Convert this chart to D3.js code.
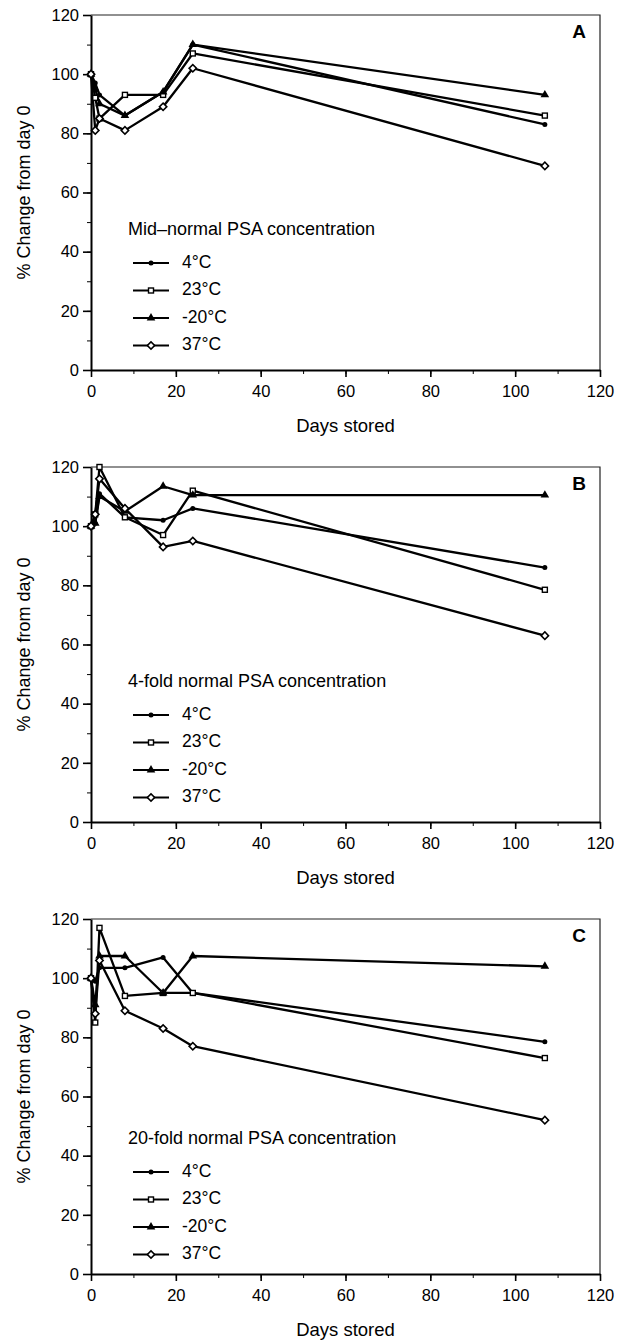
<!DOCTYPE html>
<html>
<head>
<meta charset="utf-8">
<script src="https://cdn.jsdelivr.net/npm/d3@7"></script>
<style>
  body { margin: 0; background: #fff; }
  svg { display: block; font-family: "Liberation Sans", Arial, sans-serif; }
</style>
</head>
<body>
<div id="chart"></div>
<script>
// Sampling days and series names
const days = [0, 1, 2, 8, 17, 24, 107];
const temps = ['4°C', '23°C', '-20°C', '37°C'];
const panelLetters = ['A', 'B', 'C'];
const panelTitles = [
    'Mid–normal PSA concentration',
    '4-fold normal PSA concentration',
    '20-fold normal PSA concentration'
];
const xTicks = [0, 20, 40, 60, 80, 100, 120];
const yTicks = [0, 20, 40, 60, 80, 100, 120];

// % change from day 0, one row per temperature (4, 23, -20, 37 °C)
const midNormal = [
    [100, 97, 93, 86, 94, 110, 83],
    [100, 92, 85, 93, 93, 107, 86],
    [100, 95, 90, 86, 94, 110, 93],
    [100, 81, 85, 81, 89, 102, 69]
];
const fourFold = [
    [100, 101, 111, 103, 102, 106, 86],
    [100, 104, 120, 103, 97, 112, 78.5],
    [100, 101, 110, 105, 113.5, 110.5, 110.5],
    [100, 104, 116, 106, 93, 95, 63]
];
const twentyFold = [
    [100, 99, 103.5, 103.5, 107, 95, 78.5],
    [100, 85, 117, 94, 95, 95, 73],
    [100, 91, 107.5, 107.5, 95, 107.5, 104],
    [100, 88, 106, 89, 83, 77, 52]
];
const panelData = [midNormal, fourFold, twentyFold];

const width = 624, height = 1340;
const left = 91, right = 600;
const panelTops = [15, 467, 919];
const plotH = 355;

const svg = d3.select('#chart').append('svg')
    .attr('width', width)
    .attr('height', height);

const x = d3.scaleLinear().domain([0, 120]).range([left, right]);

// marker per series
function drawMarker(sel, i) {
    if (i === 0) {
        sel.append('circle').attr('r', 2.5).attr('fill', '#000');
    } else if (i === 1) {
        sel.append('rect').attr('x', -2.5).attr('y', -2.5).attr('width', 5).attr('height', 5)
            .attr('fill', '#fff').attr('stroke', '#000').attr('stroke-width', 1.4);
    } else if (i === 2) {
        sel.append('path').attr('d', d3.symbol(d3.symbolTriangle, 32)())
            .attr('fill', '#000');
    } else {
        sel.append('rect').attr('x', -2.6).attr('y', -2.6).attr('width', 5.2).attr('height', 5.2)
            .attr('transform', 'rotate(45)')
            .attr('fill', '#fff').attr('stroke', '#000').attr('stroke-width', 1.6);
    }
}

panelData.forEach((series, p) => {
    const top = panelTops[p];
    const bottom = top + plotH;
    const y = d3.scaleLinear().domain([0, 120]).range([bottom, top]);
    const g = svg.append('g').attr('class', 'panel');

    // Frame (top and right)
    g.append('path')
        .attr('d', `M${left},${top}H${right}V${bottom}`)
        .attr('fill', 'none')
        .attr('stroke', '#222')
        .attr('stroke-width', 1.2);

    // Minor ticks
    g.append('g')
        .attr('transform', `translate(${left},0)`)
        .call(d3.axisLeft(y).tickValues(d3.range(0, 121, 10)).tickSize(4).tickFormat(''))
        .call(a => a.select('.domain').remove());
    g.append('g')
        .attr('transform', `translate(0,${bottom})`)
        .call(d3.axisBottom(x).tickValues(d3.range(0, 121, 10)).tickSize(4).tickFormat(''))
        .call(a => a.select('.domain').remove());

    // Major axes
    const yAxis = g.append('g')
        .attr('transform', `translate(${left},0)`)
        .call(d3.axisLeft(y).tickValues(yTicks).tickSize(8).tickPadding(4).tickSizeOuter(0));
    const xAxis = g.append('g')
        .attr('transform', `translate(0,${bottom})`)
        .call(d3.axisBottom(x).tickValues(xTicks).tickSize(7).tickPadding(8).tickSizeOuter(0));

    [yAxis, xAxis].forEach(a => {
        a.selectAll('text').attr('font-size', 16.5).attr('fill', '#000')
            .attr('font-family', '"Liberation Sans", Arial, sans-serif');
        a.select('.domain').attr('stroke-width', 2);
        a.selectAll('.tick line').attr('stroke-width', 1.6);
    });
    g.selectAll('.tick line').attr('stroke', '#000');

    // Axis titles
    g.append('text')
        .attr('transform', `translate(25,${(top + bottom) / 2}) rotate(-90)`)
        .attr('text-anchor', 'middle')
        .attr('dominant-baseline', 'middle')
        .attr('font-size', 18)
        .text('% Change from day 0');

    g.append('text')
        .attr('x', (left + right) / 2)
        .attr('y', bottom + 57)
        .attr('text-anchor', 'middle')
        .attr('dominant-baseline', 'middle')
        .attr('font-size', 18.5)
        .text('Days stored');

    // Panel letter
    g.append('text')
        .attr('x', 579)
        .attr('y', top + 18)
        .attr('text-anchor', 'middle')
        .attr('dominant-baseline', 'middle')
        .attr('font-size', 19)
        .attr('font-weight', 'bold')
        .text(panelLetters[p]);

    // Lines
    const line = d3.line()
        .x((d, i) => x(days[i]))
        .y(d => y(d));

    series.forEach((vals, i) => {
        g.append('path')
            .datum(vals)
            .attr('d', line)
            .attr('fill', 'none')
            .attr('stroke', '#000')
            .attr('stroke-width', 2.3)
            .attr('stroke-linejoin', 'round');
    });

    // Points
    series.forEach((vals, i) => {
        g.append('g').selectAll('g')
            .data(vals).enter()
            .append('g')
            .attr('transform', (d, j) => `translate(${x(days[j])},${y(d)})`)
            .each(function () { drawMarker(d3.select(this), i); });
    });

    // Legend
    const legTop = top + (p === 2 ? 220 : 215);
    g.append('text')
        .attr('x', 128)
        .attr('y', legTop)
        .attr('dominant-baseline', 'middle')
        .attr('font-size', 18)
        .text(panelTitles[p]);

    const leg = g.append('g').selectAll('g.legend')
        .data(temps).enter()
        .append('g')
        .attr('class', 'legend')
        .attr('transform', (d, i) => `translate(0,${legTop + 33 + i * 27.5})`);

    leg.append('line')
        .attr('x1', 133).attr('x2', 169)
        .attr('stroke', '#000')
        .attr('stroke-width', 2);

    leg.append('g')
        .attr('transform', 'translate(151,0)')
        .each(function (d, i) { drawMarker(d3.select(this), i); });

    leg.append('text')
        .attr('x', 182)
        .attr('dominant-baseline', 'middle')
        .attr('font-size', 17.5)
        .text(d => d);
});
</script>
</body>
</html>
